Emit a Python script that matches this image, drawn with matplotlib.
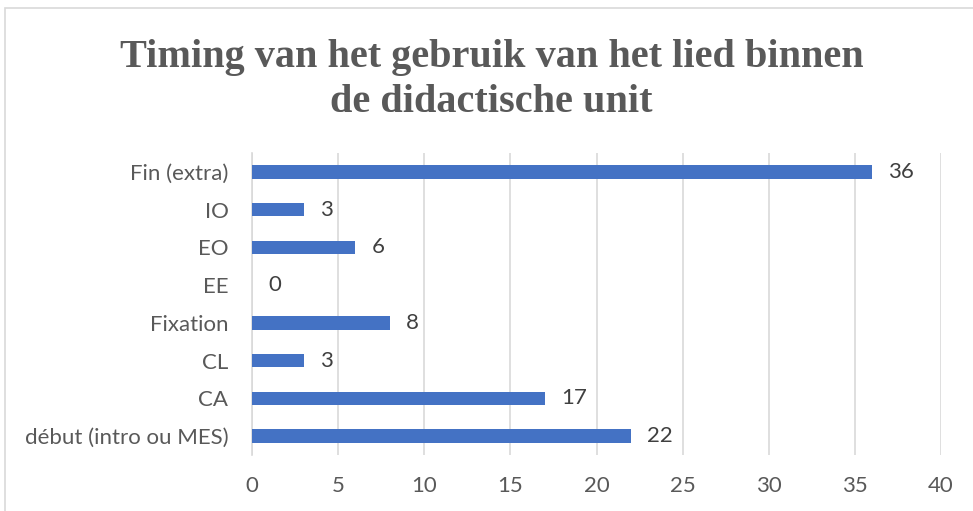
import matplotlib
matplotlib.use("Agg")
import matplotlib.pyplot as plt
from matplotlib.patches import Rectangle

categories = ["début (intro ou MES)", "CA", "CL", "Fixation", "EE", "EO", "IO", "Fin (extra)"]
values = [22, 17, 3, 8, 0, 6, 3, 36]
xticks = [0, 5, 10, 15, 20, 25, 30, 35, 40]
title = "Timing van het gebruik van het lied binnen\nde didactische unit"

fig = plt.figure(figsize=(9.73, 5.11), dpi=100)
fig.patches.append(Rectangle((5/973, -0.05), 1.0, 1 - 8/511 + 0.05, transform=fig.transFigure,
                             fill=False, edgecolor="#D9D9D9", linewidth=1.2))
ax = fig.add_axes([252/973, 1 - 455/511, (941 - 252)/973, (455 - 153)/511])

ypos = list(range(len(categories)))
bars = ax.barh(ypos, values, height=0.36, color="#4472C4", zorder=3)
for b, v in zip(bars, values):
    ax.text(b.get_width() + 0.95, b.get_y() + b.get_height() / 2, f"{v}",
            va="center", ha="left", fontsize=16, color="#404040", family="Lato")

ax.set_xlim(0, 40)
ax.set_ylim(-0.5, len(categories) - 0.5)
ax.set_xticks(xticks)
ax.set_xticklabels([str(t) for t in xticks], family="Lato", fontsize=16, color="#595959")
ax.set_yticks(ypos)
ax.set_yticklabels(categories, family="Lato", fontsize=16, color="#595959")
ax.tick_params(axis="both", length=0)
ax.tick_params(axis="y", pad=17)
ax.tick_params(axis="x", pad=15)
ax.grid(axis="x", color="#D9D9D9", linewidth=1.2, zorder=0)
for s in ["top", "right", "bottom"]:
    ax.spines[s].set_visible(False)
ax.spines["left"].set_color("#D9D9D9")
ax.spines["left"].set_linewidth(1.2)

fig.text(0.505, 1 - 80/511, title, ha="center", va="center", fontsize=29, fontweight="bold",
         family="Liberation Serif", color="#595959", linespacing=1.25)

fig.savefig("out.png", dpi=100)
